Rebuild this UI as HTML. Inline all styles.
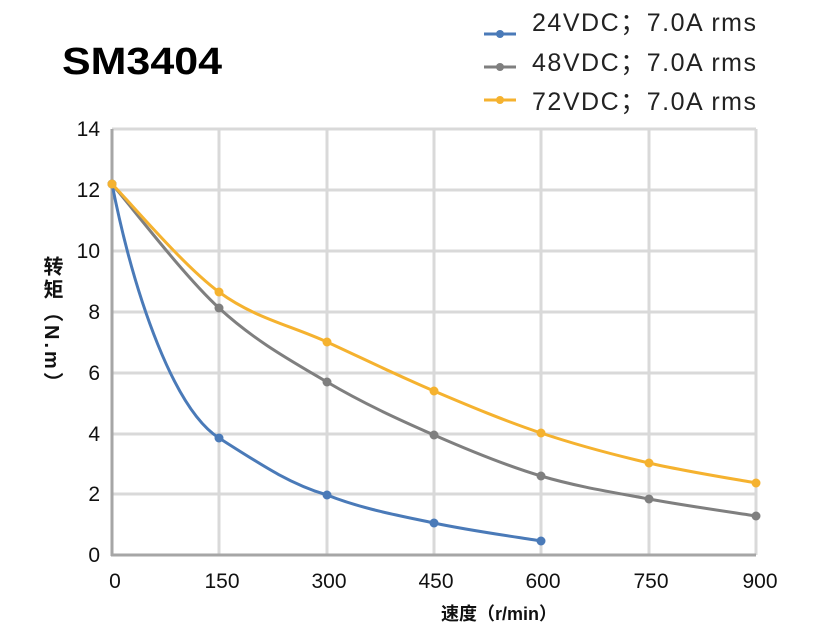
<!DOCTYPE html>
<html><head><meta charset="utf-8"><style>
html,body{margin:0;padding:0;background:#fff;width:831px;height:640px;overflow:hidden}
svg{position:absolute;left:0;top:0}
.t{font-family:"Liberation Sans","Noto Sans CJK SC",sans-serif}
#yl{position:absolute;left:37px;top:256px;writing-mode:vertical-rl;font-family:"Liberation Sans","Noto Sans CJK SC",sans-serif;font-weight:bold;font-size:20px;color:#111;letter-spacing:3px}
</style></head><body>
<svg width="831" height="640" xmlns="http://www.w3.org/2000/svg">
<g stroke="#d9d9d9" stroke-width="3">
<line x1="112" y1="129" x2="756" y2="129"/><line x1="112" y1="190" x2="756" y2="190"/>
<line x1="112" y1="251" x2="756" y2="251"/><line x1="112" y1="312" x2="756" y2="312"/>
<line x1="112" y1="373" x2="756" y2="373"/><line x1="112" y1="434" x2="756" y2="434"/>
<line x1="112" y1="494" x2="756" y2="494"/>
<line x1="219" y1="129" x2="219" y2="555"/><line x1="327" y1="129" x2="327" y2="555"/>
<line x1="434" y1="129" x2="434" y2="555"/><line x1="541" y1="129" x2="541" y2="555"/>
<line x1="649" y1="129" x2="649" y2="555"/><line x1="756" y1="129" x2="756" y2="555"/>
</g>
<line x1="112" y1="129" x2="112" y2="556" stroke="#a6a6a6" stroke-width="3"/>
<line x1="111" y1="555" x2="756" y2="555" stroke="#a6a6a6" stroke-width="3"/>
<g id="series" fill="none" stroke-width="3"></g>
<g class="t" font-size="21" fill="#111" text-anchor="end">
<text x="100" y="136">14</text><text x="100" y="197">12</text><text x="100" y="258">10</text>
<text x="100" y="319">8</text><text x="100" y="380">6</text><text x="100" y="441">4</text>
<text x="100" y="501">2</text><text x="100" y="562">0</text>
</g>
<g class="t" font-size="21" fill="#111" text-anchor="middle">
<text x="115" y="588">0</text><text x="222" y="588">150</text><text x="329" y="588">300</text>
<text x="436" y="588">450</text><text x="543" y="588">600</text><text x="651" y="588">750</text>
<text x="760" y="588">900</text>
</g>
<text class="t" x="499" y="620" font-size="18" font-weight="bold" text-anchor="middle" fill="#111">速度（r/min）</text>
<text class="t" x="62" y="74" font-size="38" font-weight="bold" fill="#000" textLength="160" lengthAdjust="spacingAndGlyphs">SM3404</text>
<g class="t" font-size="25" fill="#222">
<line x1="484" y1="34" x2="516" y2="34" stroke="#4a7ab8" stroke-width="3"/><circle cx="500" cy="34" r="4" fill="#4a7ab8"/>
<text x="532" y="31" textLength="224" lengthAdjust="spacing">24VDC；7.0A rms</text>
<line x1="484" y1="67" x2="516" y2="67" stroke="#7f7f7f" stroke-width="3"/><circle cx="500" cy="67" r="4" fill="#7f7f7f"/>
<text x="532" y="71" textLength="224" lengthAdjust="spacing">48VDC；7.0A rms</text>
<line x1="484" y1="100" x2="516" y2="100" stroke="#f5b22f" stroke-width="3"/><circle cx="500" cy="100" r="4" fill="#f5b22f"/>
<text x="532" y="110" textLength="224" lengthAdjust="spacing">72VDC；7.0A rms</text>
</g>
</svg>
<div id="yl">转矩（N.m）</div>
<script>
var S=[
 ["#4a7ab8",[[112,184],[219,438],[327,495],[434,523],[541,541]]],
 ["#7f7f7f",[[112,184],[219,308],[327,382],[434,435],[541,476],[649,499],[756,516]]],
 ["#f5b22f",[[112,184],[219,292],[327,342],[434,391],[541,433],[649,463],[756,483]]]
];
var g=document.getElementById("series"),h="";
S.forEach(function(s){
 var p=s[1],d="M"+p[0][0]+","+p[0][1];
 for(var i=0;i<p.length-1;i++){
  var p0=p[i-1]||p[i],p1=p[i],p2=p[i+1],p3=p[i+2]||p2,k=0.5/3;
  var c1=[p1[0]+(p2[0]-p0[0])*k,p1[1]+(p2[1]-p0[1])*k],c2=[p2[0]-(p3[0]-p1[0])*k,p2[1]-(p3[1]-p1[1])*k];
  if(s[0]=="#4a7ab8"){
   if(i==0){c1=[135,300];c2=[175,410];}
   if(i==1){c1=[263,466];c2=[290,484];}
  }
  d+=" C"+c1+" "+c2+" "+p2;
 }
 h+='<path d="'+d+'" stroke="'+s[0]+'"/>';
 p.forEach(function(q){h+='<circle cx="'+q[0]+'" cy="'+q[1]+'" r="4.5" fill="'+s[0]+'" stroke="none"/>';});
});
g.innerHTML=h;
</script>
</body></html>
